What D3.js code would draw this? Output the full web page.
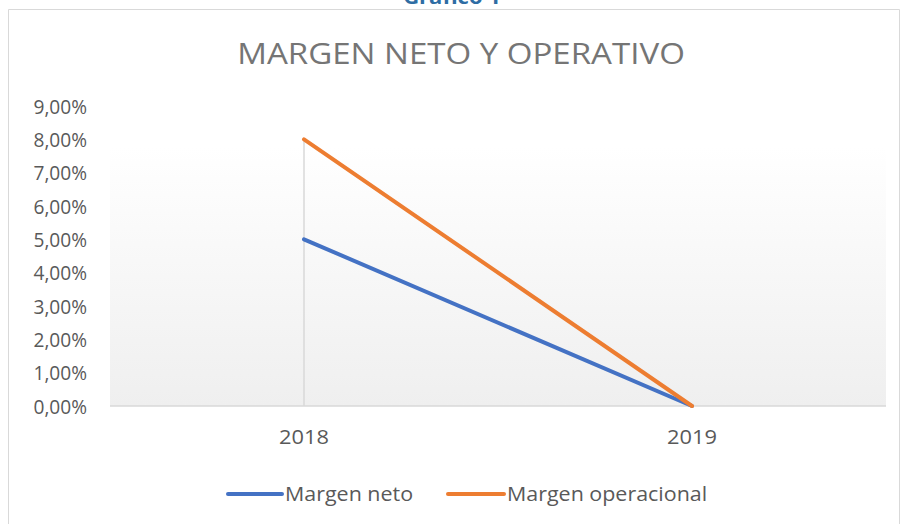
<!DOCTYPE html>
<html>
<head>
<meta charset="utf-8">
<script src="https://cdn.jsdelivr.net/npm/d3@7"></script>
<style>
  body { margin: 0; background: #fff; }
  text { font-family: "Open Sans", sans-serif; }
</style>
</head>
<body>
<div id="chart"></div>
<script>
//**************************************************************************
//** Data
//**************************************************************************
var years = ["2018", "2019"];
var margenNeto = [5.0, 0.0];
var margenOperacional = [8.0, 0.0];
var yTicks = [0, 1, 2, 3, 4, 5, 6, 7, 8, 9];
var seriesNames = ["Margen neto", "Margen operacional"];
var seriesColors = ["#4472C4", "#ED7D31"];

//**************************************************************************
//** Layout
//**************************************************************************
var width = 901, height = 524;
var plot = { left: 110, right: 886, top: 106, bottom: 406 };
var gradTop = 147;

var svg = d3.select("#chart").append("svg")
    .attr("width", width)
    .attr("height", height);

var defs = svg.append("defs");
var grad = defs.append("linearGradient")
    .attr("id", "bg").attr("x1", 0).attr("y1", 0).attr("x2", 0).attr("y2", 1);
grad.append("stop").attr("offset", "0%").attr("stop-color", "#ffffff");
grad.append("stop").attr("offset", "100%").attr("stop-color", "#efefef");

var x = d3.scalePoint().domain(years).range([plot.left, plot.right]).padding(0.5);
var y = d3.scaleLinear().domain([0, 9]).range([plot.bottom, plot.top]);
var fmt = function(d){ return d3.format(".2f")(d).replace(".", ",") + "%"; };

// text helper, with a horizontal stretch factor
var addText = function(g, tx, ty, str, size, anchor, color, sx, weight){
    return g.append("text")
        .attr("transform", "translate(" + tx + "," + ty + ") scale(" + sx + ",1)")
        .attr("text-anchor", anchor)
        .attr("dominant-baseline", "central")
        .attr("font-size", size)
        .attr("font-weight", weight || "normal")
        .attr("fill", color)
        .text(str);
};

// caption above chart (cut off at top)
addText(svg, 452, -4, "Gráfico 1", 20, "middle", "#2E6DA4", 1.1, "bold");

// chart frame
svg.append("path")
    .attr("d", "M8.5," + height + "V9.5H899.5V" + height)
    .attr("fill", "none")
    .attr("stroke", "#d9d9d9")
    .attr("stroke-width", 1);

// title
addText(svg, 461, 53, "MARGEN NETO Y OPERATIVO", 29, "middle", "#757575", 1.14);

// plot background
svg.append("rect")
    .attr("x", plot.left).attr("y", gradTop)
    .attr("width", plot.right - plot.left)
    .attr("height", plot.bottom - gradTop)
    .attr("fill", "url(#bg)");

// y axis labels
var yAxis = svg.append("g")
    .attr("transform", "translate(" + 87 + ",0)")
    .call(d3.axisLeft(y).tickValues(yTicks).tickSize(0).tickPadding(0).tickFormat(fmt));
yAxis.select(".domain").remove();
yAxis.selectAll("text").remove();
yTicks.forEach(function(t){
    addText(yAxis, 0, y(t), fmt(t), 19.5, "end", "#595959", 0.98);
});

// drop line at first category
svg.append("line")
    .attr("x1", x(years[0])).attr("x2", x(years[0]))
    .attr("y1", y(d3.max([margenNeto[0], margenOperacional[0]])))
    .attr("y2", y(0))
    .attr("stroke", "#d9d9d9")
    .attr("stroke-width", 1.5);

// baseline
svg.append("line")
    .attr("x1", plot.left).attr("x2", plot.right)
    .attr("y1", y(0)).attr("y2", y(0))
    .attr("stroke", "#d9d9d9")
    .attr("stroke-width", 1.5);

// x labels
var xAxis = svg.append("g");
years.forEach(function(d){
    addText(xAxis, x(d), 436, d, 19.5, "middle", "#595959", 1.12);
});

// series lines
var line = d3.line()
    .x(function(d, i){ return x(years[i]); })
    .y(function(d){ return y(d); });

[margenNeto, margenOperacional].forEach(function(s, i){
    svg.append("path")
        .datum(s)
        .attr("d", line)
        .attr("fill", "none")
        .attr("stroke", seriesColors[i])
        .attr("stroke-width", 4)
        .attr("stroke-linecap", "round");
});

// legend
var legendItems = [{x: 228, w: 54}, {x: 448, w: 56}];
var legend = svg.append("g");
seriesNames.forEach(function(name, i){
    var it = legendItems[i];
    legend.append("line")
        .attr("x1", it.x).attr("x2", it.x + it.w)
        .attr("y1", 494).attr("y2", 494)
        .attr("stroke", seriesColors[i])
        .attr("stroke-width", 4)
        .attr("stroke-linecap", "round");
    addText(legend, it.x + it.w + 3, 493, name, 19.5, "start", "#595959", 1.1);
});
</script>
</body>
</html>
